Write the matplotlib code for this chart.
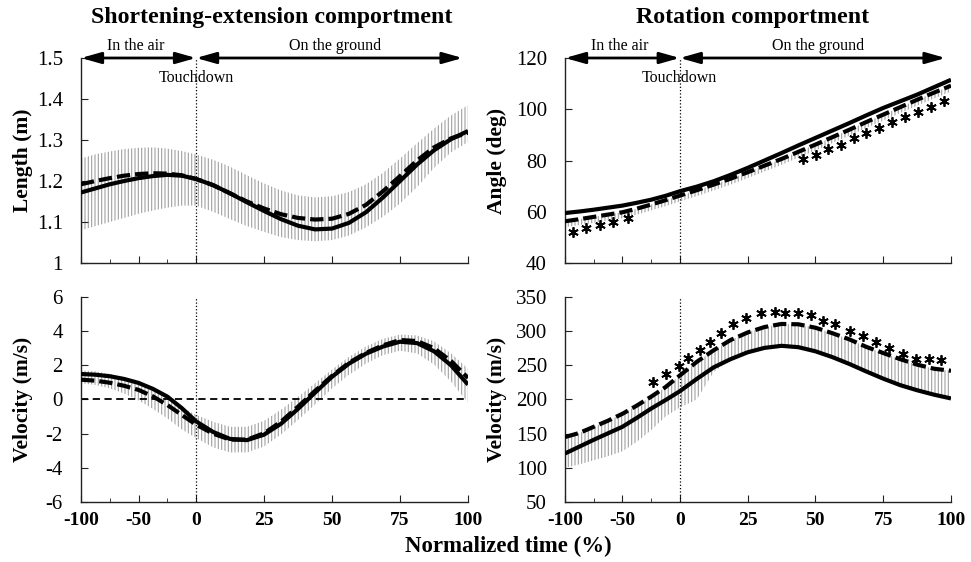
import numpy as np
import matplotlib
matplotlib.use("Agg")
from matplotlib import pyplot as plt

plt.rcParams['font.family'] = ['Liberation Serif', 'DejaVu Serif']
plt.rcParams['axes.unicode_minus'] = False
plt.rcParams['hatch.linewidth'] = 0.8

# normalized time (%), -100..0 in the air, 0..100 on the ground
t = [-100, -87.5, -75, -62.5, -50, -37.5, -25, -12.5, 0,
     6.25, 12.5, 18.75, 25, 31.25, 37.5, 43.75, 50, 56.25, 62.5, 68.75,
     75, 81.25, 87.5, 93.75, 100]

# length (m)
len_solid = [1.172, 1.182, 1.192, 1.200, 1.207, 1.212, 1.215, 1.213, 1.205,
             1.190, 1.170, 1.148, 1.127, 1.107, 1.091, 1.082, 1.084, 1.098, 1.124, 1.160,
             1.200, 1.240, 1.275, 1.302, 1.322]
len_dash = [1.192, 1.200, 1.207, 1.213, 1.217, 1.219, 1.218, 1.214, 1.205,
            1.190, 1.170, 1.150, 1.133, 1.119, 1.110, 1.106, 1.108, 1.120, 1.142, 1.175,
            1.212, 1.250, 1.282, 1.304, 1.318]
len_hi = [1.255, 1.265, 1.272, 1.278, 1.281, 1.282, 1.279, 1.273, 1.265,
          1.252, 1.235, 1.214, 1.194, 1.177, 1.165, 1.160, 1.163, 1.173, 1.192, 1.220,
          1.255, 1.292, 1.328, 1.360, 1.385]
len_lo = [1.080, 1.090, 1.100, 1.110, 1.120, 1.128, 1.135, 1.140, 1.140,
          1.125, 1.107, 1.090, 1.076, 1.063, 1.056, 1.053, 1.056, 1.067, 1.087, 1.113,
          1.145, 1.185, 1.232, 1.270, 1.295]

# shortening-extension velocity (m/s)
vel_solid = [1.49, 1.45, 1.36, 1.20, 0.97, 0.62, 0.17, -0.50, -1.28,
             -1.90, -2.31, -2.38, -2.06, -1.42, -0.55, 0.40, 1.33, 2.10, 2.68, 3.10,
             3.38, 3.30, 2.82, 2.00, 0.87]
vel_dash = [1.16, 1.10, 0.98, 0.80, 0.56, 0.18, -0.32, -0.90, -1.47,
            -2.00, -2.35, -2.35, -1.98, -1.30, -0.42, 0.50, 1.38, 2.15, 2.73, 3.17,
            3.48, 3.42, 3.00, 2.25, 1.26]
vel_hi = [1.70, 1.65, 1.50, 1.30, 1.05, 0.65, 0.15, -0.45, -0.90,
          -1.30, -1.60, -1.60, -1.25, -0.60, 0.15, 0.95, 1.75, 2.50, 3.10, 3.55,
          3.80, 3.75, 3.40, 2.70, 1.80]
vel_lo = [0.95, 0.85, 0.65, 0.35, -0.05, -0.55, -1.10, -1.75, -2.25,
          -2.80, -3.10, -3.10, -2.75, -2.05, -1.20, -0.30, 0.65, 1.45, 2.10, 2.60,
          2.85, 2.70, 2.05, 1.05, -0.20]

# angle (deg)
ang_solid = [59.5, 60.1, 60.8, 61.6, 62.4, 63.5, 64.7, 66.2, 68.0,
             69.8, 71.9, 74.4, 77.1, 80.0, 82.9, 85.9, 88.8, 91.7, 94.6, 97.6,
             100.5, 103.1, 105.7, 108.6, 111.5]
ang_dash = [56.3, 57.1, 58.0, 58.9, 59.8, 61.2, 62.8, 64.5, 66.3,
            68.4, 70.6, 72.9, 75.4, 78.0, 80.6, 83.4, 86.2, 89.1, 92.0, 95.0,
            97.9, 100.8, 103.7, 106.5, 109.2]
ang_lo = [54.0, 54.8, 55.7, 56.6, 57.5, 58.9, 60.5, 62.2, 64.0,
          66.1, 68.3, 70.6, 73.1, 75.7, 78.3, 81.1, 83.9, 86.8, 89.7, 92.7,
          95.6, 98.5, 101.4, 104.2, 106.9]
ang_star_t = [-93, -81.4, -69.6, -57.8, -45.5,
              45.6, 50.1, 54.8, 59.6, 64.2, 68.8, 73.6, 78.3, 83.1, 88.0, 92.6, 97.4]
ang_star_y = [52.2, 53.5, 54.8, 55.9, 57.4,
              80.5, 82.1, 84.4, 86.0, 88.7, 90.6, 92.6, 95.1, 96.8, 99.0, 101.0, 103.3]

# rotation velocity
rot_solid = [121, 131, 141, 150.5, 160, 173, 186.6, 199, 212,
             230, 247, 259, 269, 275.5, 278.5, 276.5, 270.5, 262, 252, 241,
             230.5, 221, 213.5, 207, 201.5]
rot_dash = [145, 151, 160, 169, 179, 191, 204, 218, 235,
            255, 272, 287, 298, 306, 310.5, 310, 305, 297, 288, 277,
            268, 259, 251, 245, 242]
rot_lo = [100, 105, 111, 117, 124, 138, 155, 175, 188,
          200, 240, 259, 270, 276.5, 279.5, 277.5, 271.5, 263, 253, 242,
          231.5, 222, 214.5, 208, 202.5]
rot_star_t = [-23.2, -11.6, -0.6, 3.1, 7.4, 11.0, 15.3, 19.6, 24.5, 30.1, 35.0, 38.7,
              43.6, 48.5, 52.8, 57.1, 62.6, 67.5, 72.4, 77.3, 82.2, 87.1, 92.0, 96.3]
rot_star_y = [225.4, 237.5, 249.7, 260.8, 272.9, 283.6, 296.7, 310.3, 319.9, 327.2, 328.2, 327.2,
              325.8, 323.3, 315.1, 310.3, 300.6, 293.3, 283.6, 275.4, 266.6, 259.4, 259.4, 257.9]

K = 0.423  # the air phase is drawn compressed


def fwd(x):
    x = np.asarray(x, dtype=float)
    return np.where(x < 0, x * K, x)


def inv(y):
    y = np.asarray(y, dtype=float)
    return np.where(y < 0, y / K, y)


fig = plt.figure(figsize=(9.71, 5.62), dpi=100)
ax_len = fig.add_axes([0.0834, 0.532, 0.3986, 0.3648])
ax_vel = fig.add_axes([0.0834, 0.1068, 0.3986, 0.3648])
ax_ang = fig.add_axes([0.5819, 0.532, 0.3975, 0.3648])
ax_rot = fig.add_axes([0.5819, 0.1068, 0.3975, 0.3648])

panels = [
    (ax_len, len_solid, len_dash, len_lo, len_hi, 'Length (m)', (1, 1.5), [1, 1.1, 1.2, 1.3, 1.4, 1.5], -0.124),
    (ax_vel, vel_solid, vel_dash, vel_lo, vel_hi, 'Velocity (m/s)', (-6, 6), [-6, -4, -2, 0, 2, 4, 6], -0.124),
    (ax_ang, ang_solid, ang_dash, ang_lo, ang_dash, 'Angle (deg)', (40, 120), [40, 60, 80, 100, 120], -0.150),
    (ax_rot, rot_solid, rot_dash, rot_lo, rot_dash, 'Velocity (m/s)', (50, 350), [50, 100, 150, 200, 250, 300, 350], -0.150),
]

for ax, solid, dash, lo, hi, ylab, ylim, yticks, labx in panels:
    ax.set_xscale('function', functions=(fwd, inv))
    ax.fill_between(t, lo, hi, facecolor='none', edgecolor='#a0a0a0', linewidth=0,
                    hatch='|||||', zorder=1)
    ax.plot(t, solid, color='black', lw=3, solid_capstyle='butt', zorder=3)
    ax.plot(t, dash, color='black', lw=3, ls=(0, (3.2, 1.2)), dash_capstyle='butt', zorder=3)
    ax.axvline(0, color='black', lw=0.9, ls=':', zorder=2)
    ax.set_xlim(-100, 100)
    ax.set_ylim(*ylim)
    ax.set_yticks(yticks)
    ax.set_yticklabels(['%g' % v for v in yticks])
    ax.set_xticks([-100, -50, 0, 25, 50, 75, 100])
    ax.set_xticks([-75, -25], minor=True)
    ax.spines['top'].set_visible(False)
    ax.spines['right'].set_visible(False)
    for s in ('left', 'bottom'):
        ax.spines[s].set_color('#222222')
        ax.spines[s].set_linewidth(1.0)
    ax.tick_params(axis='both', which='both', direction='in', color='#222222')
    ax.tick_params(axis='y', which='major', length=5, pad=13, labelsize=15)
    ax.tick_params(axis='x', which='major', length=5, pad=7, labelsize=14)
    ax.tick_params(axis='x', which='minor', length=3)
    for lab in ax.get_xticklabels():
        lab.set_fontweight('bold')
    ax.set_ylabel(ylab, fontsize=15.5, fontweight='bold')
    ax.yaxis.set_label_coords(labx, 0.5)

for ax in (ax_len, ax_ang):
    ax.tick_params(axis='x', labelbottom=False)
    trans = ax.get_xaxis_transform()
    arrow = dict(arrowstyle='<|-|>,head_length=0.6,head_width=0.17', mutation_scale=20,
                 lw=2, color='black', shrinkA=0, shrinkB=0)
    ax.annotate('', xy=(-100, 1), xytext=(0, 1), xycoords=trans, textcoords=trans,
                arrowprops=arrow, annotation_clip=False)
    ax.annotate('', xy=(0, 1), xytext=(98, 1), xycoords=trans, textcoords=trans,
                arrowprops=arrow, annotation_clip=False)
    ax.text(-52, 1.058, 'In the air', transform=trans, ha='center', va='center', fontsize=11.5)
    ax.text(51, 1.058, 'On the ground', transform=trans, ha='center', va='center', fontsize=11.5)
    ax.text(0, 0.902, 'Touchdown', transform=trans, ha='center', va='center', fontsize=11.5)

ax_vel.axhline(0, color='black', lw=1.3, ls=(0, (4, 2.5)), zorder=2)

ax_ang.plot(ang_star_t, ang_star_y, ls='none', marker=(6, 2, 0), ms=7.5, mew=1.3,
            color='black', zorder=4)
ax_rot.plot(rot_star_t, rot_star_y, ls='none', marker=(6, 2, 0), ms=7.5, mew=1.3,
            color='black', zorder=4)

fig.text(0.280, 0.959, 'Shortening-extension comportment', ha='center', va='baseline',
         fontsize=17.2, fontweight='bold')
fig.text(0.775, 0.959, 'Rotation comportment', ha='center', va='baseline',
         fontsize=17.2, fontweight='bold')
fig.text(0.524, 0.0285, 'Normalized time (%)', ha='center', va='center',
         fontsize=16.5, fontweight='bold')

fig.savefig('out.png', dpi=100)
